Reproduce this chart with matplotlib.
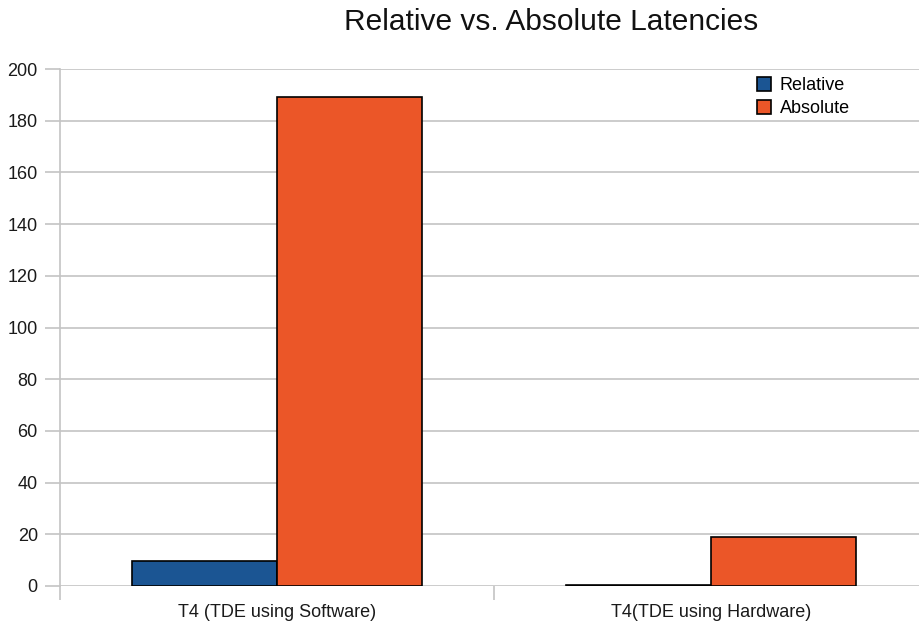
import matplotlib.pyplot as plt
import numpy as np

plt.rcParams['font.family'] = ['Liberation Sans', 'DejaVu Sans']

CATEGORIES = ["T4 (TDE using Software)", "T4(TDE using Hardware)"]
RELATIVE = [9.7, 0.5]
ABSOLUTE = [189, 19]
SERIES_NAMES = ["Relative", "Absolute"]

BLUE = "#1b5593"
ORANGE = "#eb5628"
GRID = "#c4c4c4"

fig = plt.figure(figsize=(9.19, 6.31), dpi=100)
# axes run past the right edge like the cropped original
ax = fig.add_axes([60 / 919, 1 - 586 / 631, 868 / 919, 517 / 631])

x = np.arange(len(CATEGORIES))
width = 0.334
ax.bar(x - width / 2, RELATIVE, width, color=BLUE, edgecolor="black",
       linewidth=1.2, label=SERIES_NAMES[0])
ax.bar(x + width / 2, ABSOLUTE, width, color=ORANGE, edgecolor="black",
       linewidth=1.2, label=SERIES_NAMES[1])

ax.set_xlim(-0.5, len(CATEGORIES) - 0.5)
ax.set_ylim(0, 200)
ax.set_yticks(range(0, 201, 20))
ax.yaxis.grid(True, color=GRID, linewidth=1.2)
ax.set_axisbelow(True)

for side in ["top", "right", "bottom"]:
    ax.spines[side].set_visible(False)
ax.spines["left"].set_color(GRID)
ax.spines["left"].set_linewidth(1.2)

ax.tick_params(axis="y", length=11, color=GRID, width=1.2, labelsize=13,
               pad=5, labelcolor="#1a1a1a")
# category separators as minor ticks, labels at centres
ax.set_xticks(x)
ax.set_xticklabels(CATEGORIES)
ax.set_xticks(np.arange(len(CATEGORIES) + 1) - 0.5, minor=True)
ax.tick_params(axis="x", which="major", length=0, labelsize=13, pad=13,
               labelcolor="#1a1a1a")
ax.tick_params(axis="x", which="minor", length=10, color=GRID, width=1.2)

fig.text(551 / 919, 1 - 22 / 631, "Relative vs. Absolute Latencies",
         ha="center", va="center", fontsize=21.5, color="#111111")

ax.legend(loc="upper left", bbox_to_anchor=(748 / 919, 1 - 68 / 631),
          bbox_transform=fig.transFigure, frameon=False, fontsize=13,
          handlelength=0.8, handleheight=0.85, handletextpad=0.45,
          labelspacing=0.3, borderpad=0)

fig.savefig("out.png", dpi=100)
